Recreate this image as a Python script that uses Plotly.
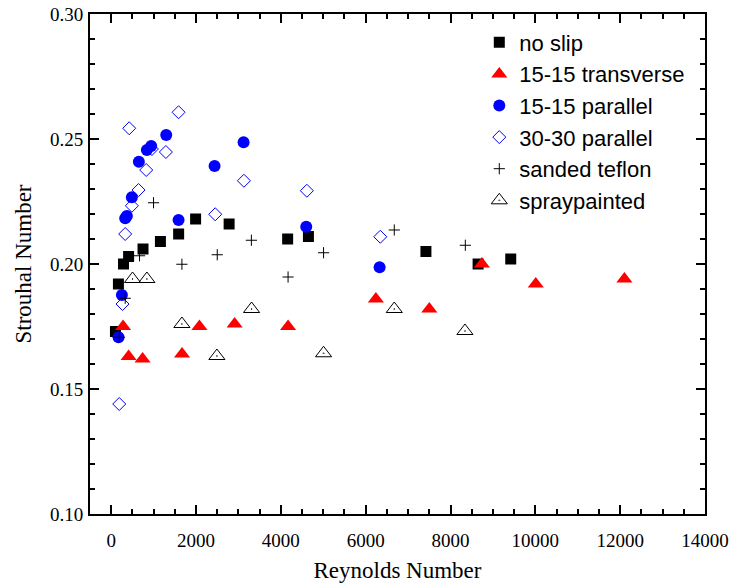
import plotly.graph_objects as go

# ---- data ----
no_slip_x = [100, 170, 290, 410, 750, 1160, 1590, 1990, 2780, 4160, 4650, 7420, 8650, 9420]
no_slip_y = [0.173, 0.192, 0.200, 0.203, 0.206, 0.209, 0.212, 0.218, 0.216, 0.210, 0.211, 0.205, 0.200, 0.202]

trans_x = [280, 410, 740, 1670, 2080, 2910, 4170, 6240, 7500, 8740, 10010, 12100]
trans_y = [0.175, 0.163, 0.162, 0.164, 0.175, 0.176, 0.175, 0.186, 0.182, 0.200, 0.192, 0.194]

par15_x = [173, 252, 330, 369, 487, 652, 841, 943, 1297, 1588, 2437, 3121, 4598, 6328]
par15_y = [0.1707, 0.1876, 0.2183, 0.2192, 0.2267, 0.2409, 0.2456, 0.2472, 0.2516, 0.2176, 0.2392, 0.2487, 0.2149, 0.1987]

par30_x = [189, 267, 330, 424, 487, 645, 825, 959, 1289, 1588, 2452, 3129, 4613, 6344]
par30_y = [0.144, 0.184, 0.212, 0.2543, 0.2233, 0.2296, 0.2376, 0.246, 0.2448, 0.2607, 0.2199, 0.2333, 0.2293, 0.2109]

sand_x = [189, 330, 668, 998, 1667, 2500, 3305, 4170, 5007, 6674, 8349]
sand_y = [0.1707, 0.1863, 0.2033, 0.2245, 0.1999, 0.2037, 0.2095, 0.1948, 0.2045, 0.2136, 0.2075]

spray_x = [503, 841, 1667, 2492, 3309, 5007, 6674, 8340]
spray_y = [0.194, 0.194, 0.176, 0.1632, 0.182, 0.1643, 0.182, 0.1732]

serif = "Liberation Serif"
sans = "Liberation Sans"

fig = go.Figure()
fig.add_trace(go.Scatter(x=no_slip_x, y=no_slip_y, mode="markers", name="no slip",
                         marker=dict(symbol="square", size=11, color="black")))
fig.add_trace(go.Scatter(x=trans_x, y=trans_y, mode="markers", name="15-15 transverse",
                         marker=dict(symbol="triangle-up", size=14, color="#ff0000")))
fig.add_trace(go.Scatter(x=par15_x, y=par15_y, mode="markers", name="15-15 parallel",
                         marker=dict(symbol="circle", size=12, color="#0000ff")))
fig.add_trace(go.Scatter(x=par30_x, y=par30_y, mode="markers", name="30-30 parallel",
                         marker=dict(symbol="diamond-open", size=10, color="#0000ff",
                                     line=dict(width=1, color="#0000ff"))))
fig.add_trace(go.Scatter(x=sand_x, y=sand_y, mode="markers", name="sanded teflon",
                         marker=dict(symbol="cross-thin", size=8,
                                     line=dict(width=1, color="black"))))
fig.add_trace(go.Scatter(x=spray_x, y=spray_y, mode="markers", name="spraypainted",
                         marker=dict(symbol="triangle-up-open-dot", size=14, color="black",
                                     line=dict(width=1, color="black"))))

axis_common = dict(
    showline=True, linecolor="black", linewidth=2, mirror="allticks",
    ticks="inside", ticklen=9, tickwidth=1.5, tickcolor="black",
    showgrid=False, zeroline=False, automargin=False,
    tickfont=dict(family=serif, size=19, color="black"),
)

fig.update_xaxes(
    range=[-500, 14000], tick0=0, dtick=2000, tickformat="d",
    minor=dict(dtick=500, ticks="inside", ticklen=5, tickwidth=1.5, tickcolor="black"),
    title=dict(text="Reynolds Number", font=dict(family=serif, size=23, color="black"), standoff=12),
    ticklabelstandoff=8,
    **axis_common,
)
fig.update_yaxes(
    range=[0.10, 0.30], tick0=0.10, dtick=0.05, tickformat=".2f",
    minor=dict(dtick=0.01, ticks="inside", ticklen=5, tickwidth=1.5, tickcolor="black"),
    title=dict(text="Strouhal Number", font=dict(family=serif, size=23, color="black"), standoff=12),
    ticklabelstandoff=1,
    **axis_common,
)

fig.update_layout(
    width=732, height=585,
    margin=dict(l=90, r=27, t=14, b=71),
    plot_bgcolor="white", paper_bgcolor="white",
    legend=dict(x=0.633, y=0.985, xanchor="left", yanchor="top",
                bgcolor="rgba(0,0,0,0)", borderwidth=0,
                font=dict(family=sans, size=22, color="black")),
)

fig.write_html("out.html",
               config={"displayModeBar": False},
               post_script="document.body.style.margin='0';document.body.style.overflow='hidden';")
